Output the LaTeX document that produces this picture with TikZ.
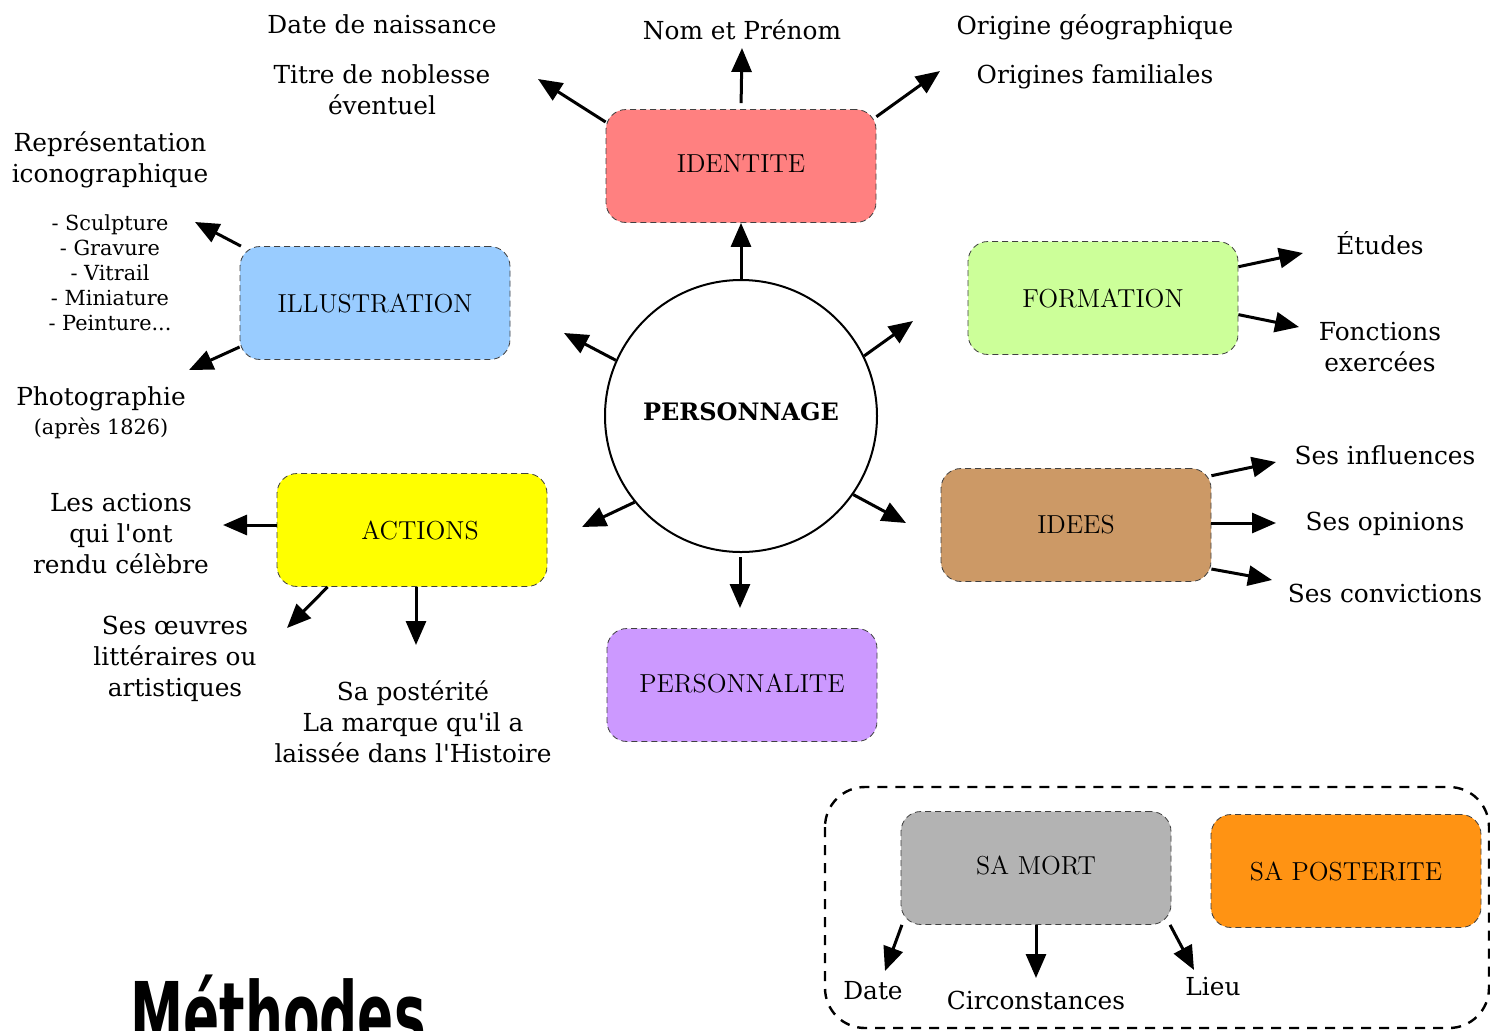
\documentclass[tikz,border=0pt]{standalone}
\usepackage{fontspec}
\newfontfamily\serfont{DejaVu Serif}
\newfontfamily\titlefont{DejaVu Sans}
\usetikzlibrary{arrows.meta}
\tikzset {>={Triangle[length=12pt,width=10pt]}}
\tikzset{
  box/.style={draw=black!75,dash pattern=on 3pt off 2pt,thin,rounded corners=10pt,
    minimum width=135pt,minimum height=56.5pt,inner sep=0pt,font=\fontsize{13}{15}\selectfont},
  txt/.style={align=center,inner sep=0pt,font=\serfont\fontsize{12.4}{15.5}\selectfont},
  small/.style={align=center,inner sep=0pt,font=\serfont\fontsize{10.4}{12.5}\selectfont},
  arr/.style={->,line width=1.5pt},
}

\begin{document}
\begin{tikzpicture}[x=0.5pt,y=-0.5pt]
\useasboundingbox (0,0) rectangle (1490,1030);
% centre
\node[circle,draw,line width=1pt,minimum size=136pt,inner sep=0pt,
  font=\serfont\bfseries\fontsize{12}{14}\selectfont] (perso) at (741,416) {\raisebox{4pt}{PERSONNAGE}};
% boites
\node[box,fill={rgb,255:red,255;green,128;blue,128}] (ident) at (741,166) {\raisebox{2pt}{IDENTITE}};
\node[box,fill={rgb,255:red,204;green,255;blue,153}] (form) at (1103,298) {FORMATION};
\node[box,fill={rgb,255:red,153;green,204;blue,255}] (illu) at (375,303) {ILLUSTRATION};
\node[box,fill={rgb,255:red,255;green,255;blue,0}] (act) at (412,530) {\hspace{8pt}ACTIONS};
\node[box,fill={rgb,255:red,204;green,153;blue,102}] (idees) at (1076,525) {IDEES};
\node[box,fill={rgb,255:red,204;green,153;blue,255}] (perso2) at (742,685) {\raisebox{2pt}{PERSONNALITE}};
\node[box,fill={rgb,255:red,179;green,179;blue,179}] (mort) at (1036,868) {\raisebox{3pt}{SA MORT}};
\node[box,fill={rgb,255:red,255;green,147;blue,19}] (poster) at (1346,871) {SA POSTERITE};
\draw[line width=1.2pt,dash pattern=on 5pt off 4pt,rounded corners=20pt] (825,787) rectangle (1489,1028);
% textes
\node[txt] (tNaiss) at (382,24) {Date de naissance};
\node[txt] (tTitre) at (382,90) {Titre de noblesse\\éventuel};
\node[txt] (tNom) at (742,30) {Nom et Prénom};
\node[txt] (tGeo) at (1095,27) {Origine géographique};
\node[txt] (tFam) at (1095,77) {Origines familiales};
\node[txt] (tRepr) at (110,160) {Représentation\\iconographique};
\node[small] (tListe) at (110,273) {- Sculpture\\- Gravure\\- Vitrail\\- Miniature\\- Peinture...};
\node[txt] (tPhoto) at (101,399) {Photographie};
\node[small] (tApres) at (101,428) {(après 1826)};
\node[txt] (tEtud) at (1380,243) {Études};
\node[txt] (tFonc) at (1380,347) {Fonctions\\exercées};
\node[txt] (tInfl) at (1385,455) {Ses influences};
\node[txt] (tOpin) at (1385,524) {Ses opinions};
\node[txt] (tConv) at (1385,593) {Ses convictions};
\node[txt] (tActs) at (121,534) {Les actions\\qui l'ont\\rendu célèbre};
\node[txt] (tOeuv) at (175,659) {Ses œuvres\\littéraires ou\\artistiques};
\node[txt] (tPost) at (413,722) {Sa postérité\\La marque qu'il a\\laissée dans l'Histoire};
\node[txt] (tDate) at (873,991) {Date};
\node[txt] (tCirc) at (1036,1000) {Circonstances};
\node[txt] (tLieu) at (1213,987) {Lieu};
\node[anchor=north west,inner sep=0pt,xscale=0.58,font=\titlefont\bfseries\fontsize{46}{48}\selectfont] (tMeth) at (130,975) {Méthodes};
% pointes des fleches
\coordinate (cTitre) at (538,79);
\coordinate (cNom) at (742,48);
\coordinate (cOrig) at (940,71);
\coordinate (cForm) at (913,321);
\coordinate (cIllu) at (564,333);
\coordinate (cAct) at (582,527);
\coordinate (cIdees) at (906,523);
\coordinate (cPers) at (740,608);
\coordinate (cListe) at (195,222);
\coordinate (cPhoto) at (189,370);
\coordinate (cActs) at (223,525);
\coordinate (cOeuv) at (287,628);
\coordinate (cPost) at (416,645);
\coordinate (cEtud) at (1303,253);
\coordinate (cFonc) at (1299,327);
\coordinate (cInfl) at (1276,462);
\coordinate (cOpin) at (1276,523);
\coordinate (cConv) at (1272,580);
\coordinate (cDate) at (885,971);
\coordinate (cCirc) at (1036,978);
\coordinate (cLieu) at (1194,970);
% fleches
\draw[arr] (perso) -- (ident);
\draw[arr] (perso.26) -- (cForm);
\draw[arr] (perso.156) -- (cIllu);
\draw[arr] (perso.219) -- (cAct);
\draw[arr] (perso.325) -- (cIdees);
\draw[arr,shorten <=2pt] (perso.south -| cPers) -- (cPers);
\draw[arr] (ident.162) -- (cTitre);
\draw[arr,shorten <=3pt] (ident.north) -- (cNom);
\draw[arr] (ident.20) -- (cOrig);
\draw[arr] (illu.157) -- (cListe);
\draw[arr] (illu.198) -- (cPhoto);
\draw[arr] (act.west |- cActs) -- (cActs);
\draw[arr] (act.214) -- (cOeuv);
\draw[arr] (act.south -| cPost) -- (cPost);
\draw[arr] (form.13) -- (cEtud);
\draw[arr] (form.353) -- (cFonc);
\draw[arr] (idees.20) -- (cInfl);
\draw[arr] (idees.east |- cOpin) -- (cOpin);
\draw[arr] (idees.342) -- (cConv);
\draw[arr] (mort.203) -- (cDate);
\draw[arr] (mort.south) -- (cCirc);
\draw[arr] (mort.337) -- (cLieu);
\end{tikzpicture}
\end{document}
